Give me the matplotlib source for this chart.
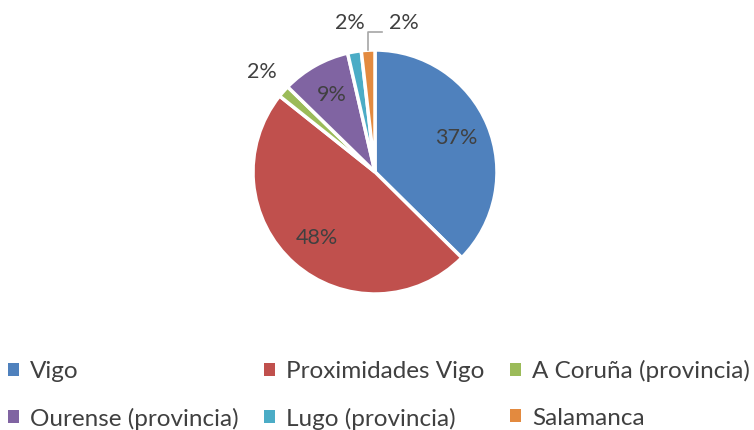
import numpy as np
import matplotlib.pyplot as plt
from matplotlib.patches import Patch

plt.rcParams['font.family'] = ['Lato', 'DejaVu Sans']

labels = ["Vigo", "Proximidades Vigo", "A Coruña (provincia)",
          "Ourense (provincia)", "Lugo (provincia)", "Salamanca"]
values = [37.4, 48.3, 1.6, 9.1, 1.8, 1.8]
colors = ["#4F81BD", "#C0504D", "#9BBB59", "#8064A2", "#4BACC6", "#E38A3F"]
text_col = "#404040"

fig = plt.figure(figsize=(7.54, 4.30), dpi=100)
ax = fig.add_axes([(375 - 122) / 754, (430 - 294) / 430, 244 / 754, 244 / 430])

wedges, _ = ax.pie(values, colors=colors, startangle=90, counterclock=False,
                   wedgeprops=dict(edgecolor="white", linewidth=2.5))
ax.set_aspect("equal")
ax.set_xlim(-1, 1)
ax.set_ylim(-1, 1)

total = sum(values)
for i, (w, v) in enumerate(zip(wedges, values)):
    mid = np.deg2rad((w.theta1 + w.theta2) / 2)
    txt = f"{v / total * 100:.0f}%"
    if v < 3:
        r = 1.24
        x, y = r * np.cos(mid), r * np.sin(mid)
        if labels[i] == "Salamanca":
            ex, ey = np.cos(mid), np.sin(mid)
            ax.plot([ex, ex, ex + 0.11], [ey, 1.15, 1.15], color="#A6A6A6",
                    lw=1.2, clip_on=False)
            x, y = ex + 0.29, 1.22
        ax.text(x, y, txt, ha="center", va="center", fontsize=15.5,
                color=text_col, clip_on=False)
    else:
        r = 0.72
        ax.text(r * np.cos(mid), r * np.sin(mid), txt, ha="center",
                va="center", fontsize=15.5, color=text_col)

order = [0, 3, 1, 4, 2, 5]
handles = [Patch(facecolor=colors[k], edgecolor="none") for k in order]
fig.legend(handles, [labels[k] for k in order], ncol=3, loc="lower left",
           bbox_to_anchor=(-0.018, -0.05), frameon=False, fontsize=17.5,
           labelcolor=text_col, handlelength=0.45, handleheight=0.45,
           handletextpad=0.45, columnspacing=1.05, labelspacing=1.05)

fig.savefig("out.png", dpi=100)
